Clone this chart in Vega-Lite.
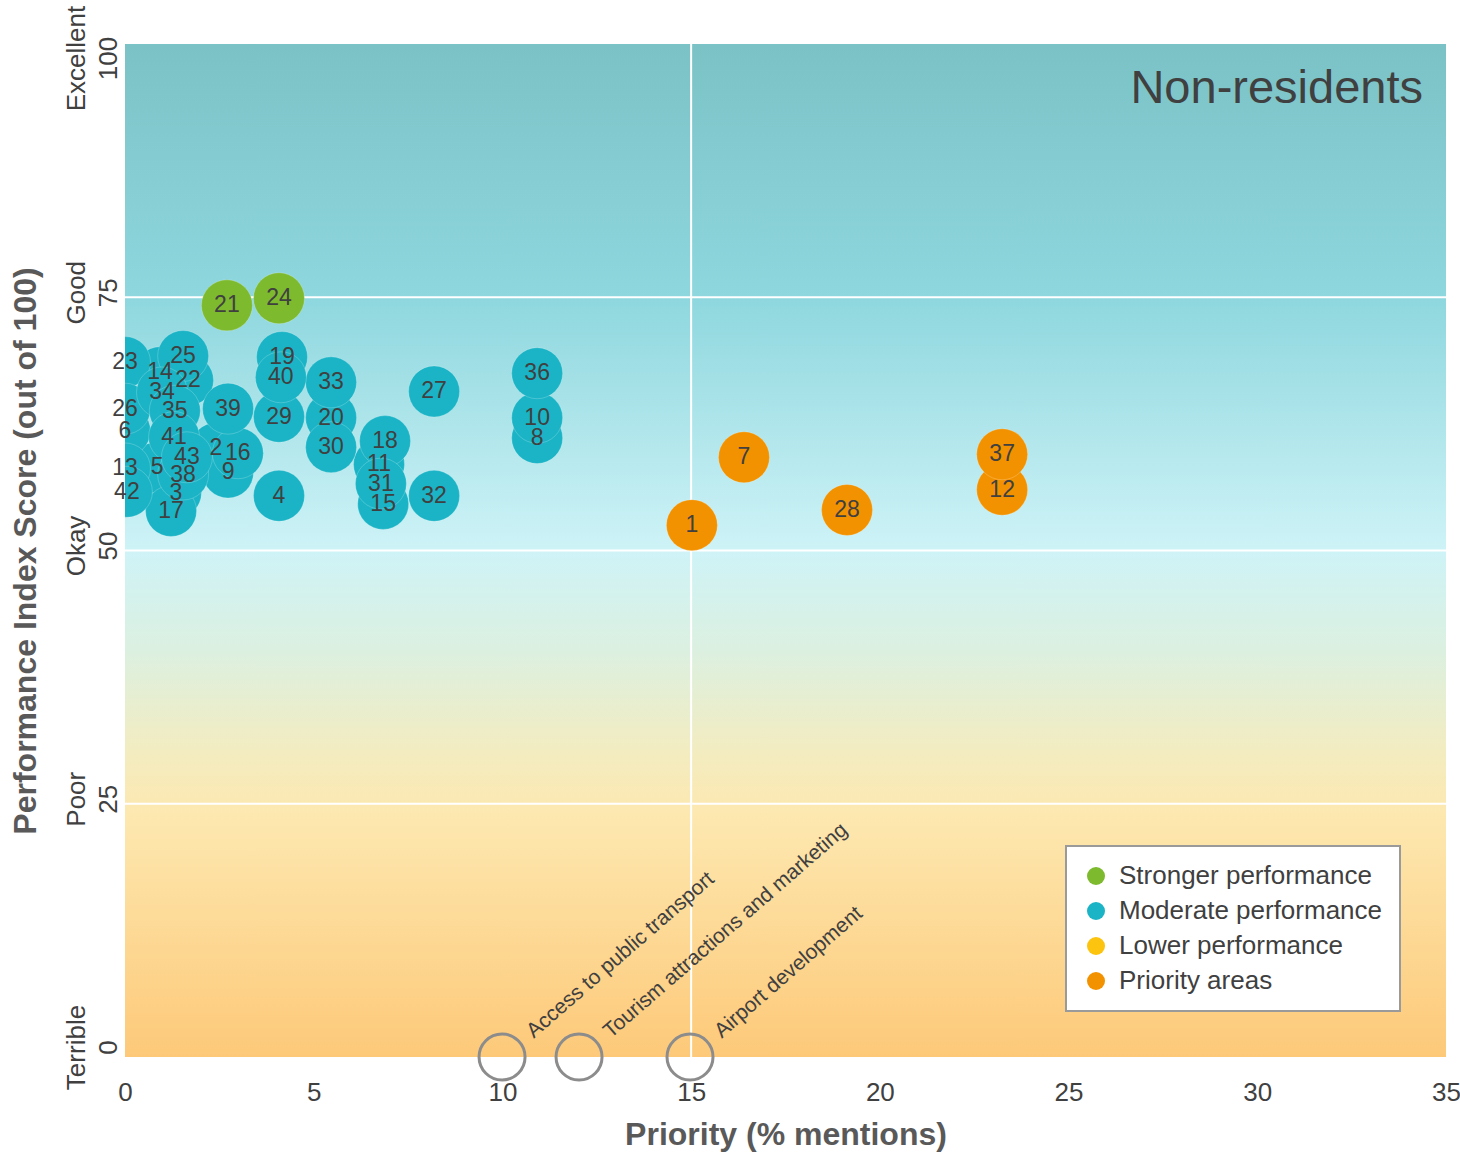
{
  "$schema": "https://vega.github.io/schema/vega-lite/v6.json",
  "width": 1321,
  "height": 1013,
  "autosize": {"type": "none"},
  "padding": {"left": 125, "top": 44, "right": 14, "bottom": 95},
  "background": "white",
  "config": {
    "font": "Liberation Sans",
    "view": {"stroke": null},
    "legend": {"strokeWidth": 2}
  },
  "datasets": {
    "pts": [
      {"id": "1", "priority": 15.02, "score": 52.5, "group": "Priority areas"},
      {"id": "2", "priority": 2.41, "score": 60.1, "group": "Moderate performance"},
      {"id": "3", "priority": 1.35, "score": 55.7, "group": "Moderate performance"},
      {"id": "4", "priority": 4.08, "score": 55.4, "group": "Moderate performance"},
      {"id": "5", "priority": 0.85, "score": 58.2, "group": "Moderate performance"},
      {"id": "6", "priority": 0.0, "score": 61.8, "group": "Moderate performance"},
      {"id": "7", "priority": 16.4, "score": 59.2, "group": "Priority areas"},
      {"id": "8", "priority": 10.92, "score": 61.1, "group": "Moderate performance"},
      {"id": "9", "priority": 2.73, "score": 57.7, "group": "Moderate performance"},
      {"id": "10", "priority": 10.92, "score": 63.1, "group": "Moderate performance"},
      {"id": "11", "priority": 6.73, "score": 58.5, "group": "Moderate performance"},
      {"id": "12", "priority": 23.24, "score": 56.0, "group": "Priority areas"},
      {"id": "13", "priority": 0.0, "score": 58.1, "group": "Moderate performance"},
      {"id": "14", "priority": 0.93, "score": 67.6, "group": "Moderate performance"},
      {"id": "15", "priority": 6.84, "score": 54.6, "group": "Moderate performance"},
      {"id": "16", "priority": 2.99, "score": 59.6, "group": "Moderate performance"},
      {"id": "17", "priority": 1.22, "score": 53.9, "group": "Moderate performance"},
      {"id": "18", "priority": 6.89, "score": 60.8, "group": "Moderate performance"},
      {"id": "19", "priority": 4.16, "score": 69.1, "group": "Moderate performance"},
      {"id": "20", "priority": 5.46, "score": 63.1, "group": "Moderate performance"},
      {"id": "21", "priority": 2.7, "score": 74.2, "group": "Stronger performance"},
      {"id": "22", "priority": 1.67, "score": 66.8, "group": "Moderate performance"},
      {"id": "23", "priority": 0.0, "score": 68.6, "group": "Moderate performance"},
      {"id": "24", "priority": 4.08, "score": 74.9, "group": "Stronger performance"},
      {"id": "25", "priority": 1.54, "score": 69.2, "group": "Moderate performance"},
      {"id": "26", "priority": 0.0, "score": 64.0, "group": "Moderate performance"},
      {"id": "27", "priority": 8.19, "score": 65.7, "group": "Moderate performance"},
      {"id": "28", "priority": 19.13, "score": 54.0, "group": "Priority areas"},
      {"id": "29", "priority": 4.08, "score": 63.2, "group": "Moderate performance"},
      {"id": "30", "priority": 5.46, "score": 60.2, "group": "Moderate performance"},
      {"id": "31", "priority": 6.78, "score": 56.6, "group": "Moderate performance"},
      {"id": "32", "priority": 8.19, "score": 55.4, "group": "Moderate performance"},
      {"id": "33", "priority": 5.46, "score": 66.6, "group": "Moderate performance"},
      {"id": "34", "priority": 0.98, "score": 65.6, "group": "Moderate performance"},
      {"id": "35", "priority": 1.32, "score": 63.8, "group": "Moderate performance"},
      {"id": "36", "priority": 10.92, "score": 67.5, "group": "Moderate performance"},
      {"id": "37", "priority": 23.24, "score": 59.5, "group": "Priority areas"},
      {"id": "38", "priority": 1.54, "score": 57.5, "group": "Moderate performance"},
      {"id": "39", "priority": 2.73, "score": 64.0, "group": "Moderate performance"},
      {"id": "40", "priority": 4.13, "score": 67.1, "group": "Moderate performance"},
      {"id": "41", "priority": 1.3, "score": 61.2, "group": "Moderate performance"},
      {"id": "42", "priority": 0.05, "score": 55.8, "group": "Moderate performance"},
      {"id": "43", "priority": 1.64, "score": 59.2, "group": "Moderate performance"}
    ],
    "bottom": [
      {"label": "Access to public transport", "priority": 9.99, "score": 0},
      {"label": "Tourism attractions and marketing", "priority": 12.03, "score": 0},
      {"label": "Airport development", "priority": 14.97, "score": 0}
    ],
    "hlines": [{"score": 25}, {"score": 50}, {"score": 75}],
    "one": [{"t": "Non-residents"}]
  },
  "layer": [
    {
      "data": {"name": "one"},
      "mark": {
        "type": "rect",
        "fill": {
          "gradient": "linear", "x1": 0, "y1": 0, "x2": 0, "y2": 1,
          "stops": [
            {"offset": 0, "color": "#7bc2c6"},
            {"offset": 0.25, "color": "#8ed7de"},
            {"offset": 0.5, "color": "#cef3f7"},
            {"offset": 0.6, "color": "#dcf0e0"},
            {"offset": 0.7, "color": "#f3ecc0"},
            {"offset": 0.76, "color": "#fde8b0"},
            {"offset": 1, "color": "#fdc979"}
          ]
        }
      },
      "encoding": {
        "x": {"datum": 0, "type": "quantitative"},
        "x2": {"datum": 35},
        "y": {"datum": 0, "type": "quantitative"},
        "y2": {"datum": 100}
      }
    },
    {
      "data": {"name": "hlines"},
      "mark": {"type": "rule", "color": "white", "strokeWidth": 2},
      "encoding": {"y": {"field": "score", "type": "quantitative"}}
    },
    {
      "data": {"name": "one"},
      "mark": {"type": "rule", "color": "white", "strokeWidth": 2},
      "encoding": {"x": {"datum": 15, "type": "quantitative"}}
    },
    {
      "data": {"name": "pts"},
      "mark": {"type": "circle", "size": 2600, "opacity": 1, "clip": true, "stroke": "white", "strokeWidth": 0.6, "strokeOpacity": 0.35},
      "encoding": {
        "x": {
          "field": "priority", "type": "quantitative",
          "scale": {"domain": [0, 35], "nice": false, "zero": false},
          "axis": {
            "title": "Priority (% mentions)",
            "values": [0, 5, 10, 15, 20, 25, 30, 35],
            "grid": false, "domain": false, "ticks": false,
            "labelFlush": false,
            "labelFontSize": 26, "labelColor": "#404040", "labelPadding": 22,
            "titleFontSize": 32, "titleFontWeight": "bold", "titleColor": "#595959", "titlePadding": 14
          }
        },
        "y": {
          "field": "score", "type": "quantitative",
          "scale": {"domain": [0, 100], "nice": false, "zero": false},
          "axis": {
            "title": "Performance Index Score (out of 100)",
            "values": [0, 25, 50, 75, 100],
            "grid": false, "domain": false, "ticks": false,
            "labelFlush": false,
            "labelAngle": -90, "labelAlign": "center", "labelBaseline": "bottom",
            "labelLineHeight": 32,
            "labelExpr": "datum.value == 100 ? ['Excellent', '100'] : datum.value == 75 ? ['Good', '75'] : datum.value == 50 ? ['Okay', '50'] : datum.value == 25 ? ['Poor', '25'] : ['Terrible', '0']",
            "labelOffset": {"condition": [{"test": "datum.value == 100", "value": 14}, {"test": "datum.value == 0", "value": -10}], "value": -5},
            "labelFontSize": 26, "labelColor": "#404040", "labelPadding": 36,
            "titleFontSize": 32, "titleFontWeight": "bold", "titleColor": "#595959", "titlePadding": 21
          }
        },
        "color": {
          "field": "group", "type": "nominal",
          "scale": {
            "domain": ["Stronger performance", "Moderate performance", "Lower performance", "Priority areas"],
            "range": ["#7dba2e", "#1ab4c6", "#fcc30f", "#f39200"]
          },
          "legend": {
            "title": null, "orient": "bottom-right", "offset": 46,
            "fillColor": "white", "strokeColor": "#9a9a9a",
            "padding": 17, "rowPadding": 9,
            "labelFontSize": 26, "labelColor": "#404040", "labelOffset": 10, "labelLimit": 500,
            "symbolType": "circle", "symbolSize": 324, "symbolStrokeWidth": 0, "symbolOpacity": 1
          }
        }
      }
    },
    {
      "data": {"name": "pts"},
      "mark": {"type": "text", "fontSize": 23, "color": "#404040", "align": "center", "baseline": "middle"},
      "encoding": {
        "x": {"field": "priority", "type": "quantitative"},
        "y": {"field": "score", "type": "quantitative"},
        "text": {"field": "id"}
      }
    },
    {
      "data": {"name": "bottom"},
      "mark": {"type": "point", "shape": "circle", "filled": false, "size": 2116, "stroke": "#8c8c8c", "strokeWidth": 3, "opacity": 1},
      "encoding": {
        "x": {"field": "priority", "type": "quantitative"},
        "y": {"field": "score", "type": "quantitative"}
      }
    },
    {
      "data": {"name": "bottom"},
      "mark": {"type": "text", "fontSize": 21, "color": "#404040", "align": "left", "baseline": "alphabetic", "angle": 319, "dx": 36, "dy": 7},
      "encoding": {
        "x": {"field": "priority", "type": "quantitative"},
        "y": {"field": "score", "type": "quantitative"},
        "text": {"field": "label"}
      }
    },
    {
      "data": {"name": "one"},
      "mark": {"type": "text", "fontSize": 47, "color": "#404040", "align": "right", "baseline": "alphabetic", "dx": -23, "dy": 59},
      "encoding": {
        "x": {"datum": 35, "type": "quantitative"},
        "y": {"datum": 100, "type": "quantitative"},
        "text": {"field": "t"}
      }
    }
  ]
}
